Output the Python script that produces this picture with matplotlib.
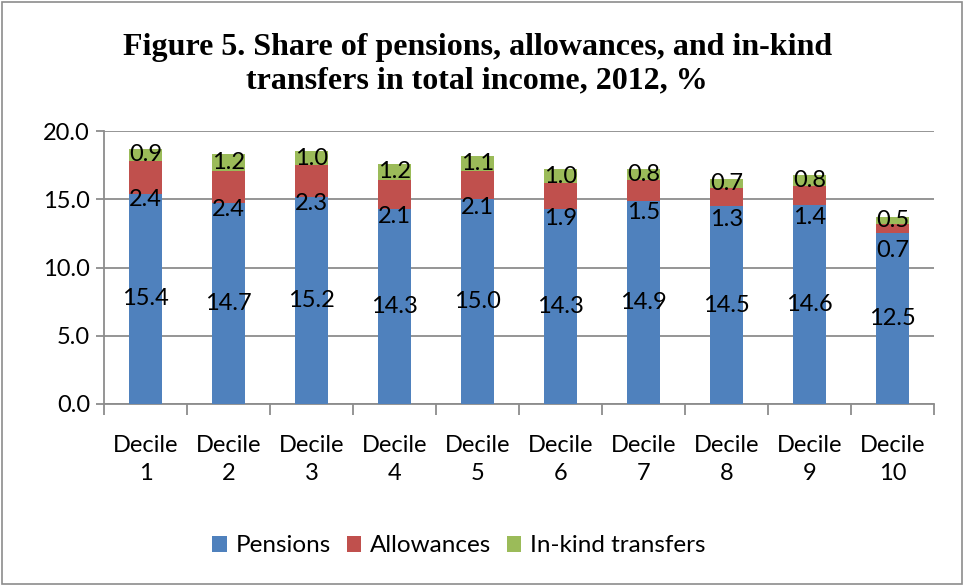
import matplotlib
matplotlib.use("Agg")
import matplotlib.pyplot as plt
from matplotlib.patches import Rectangle
import numpy as np

categories = ["Decile\n1", "Decile\n2", "Decile\n3", "Decile\n4", "Decile\n5",
              "Decile\n6", "Decile\n7", "Decile\n8", "Decile\n9", "Decile\n10"]
pensions = [15.4, 14.7, 15.2, 14.3, 15.0, 14.3, 14.9, 14.5, 14.6, 12.5]
allowances = [2.4, 2.4, 2.3, 2.1, 2.1, 1.9, 1.5, 1.3, 1.4, 0.7]
in_kind = [0.9, 1.2, 1.0, 1.2, 1.1, 1.0, 0.8, 0.7, 0.8, 0.5]

series_names = ["Pensions", "Allowances", "In-kind transfers"]
colors = ["#4F81BD", "#C0504D", "#9BBB59"]

plt.rcParams['font.family'] = ['Lato', 'DejaVu Sans']
fs = 17

fig = plt.figure(figsize=(9.64, 5.86), dpi=100)
ax = fig.add_axes([104 / 964, 1 - 404 / 586, 830 / 964, 273 / 586])

x = np.arange(len(categories))
width = 0.4
p = np.array(pensions)
a = np.array(allowances)
k = np.array(in_kind)

ax.bar(x, p, width, color=colors[0], label=series_names[0], zorder=3)
ax.bar(x, a, width, bottom=p, color=colors[1], label=series_names[1], zorder=3)
ax.bar(x, k, width, bottom=p + a, color=colors[2], label=series_names[2], zorder=3)

# data labels (Excel put the allowance labels a bit below their segment)
for i in range(len(x)):
    ax.text(x[i], p[i] / 2, f"{p[i]:.1f}", ha='center', va='center',
            fontsize=fs, zorder=4)
    ax.annotate(f"{a[i]:.1f}", (x[i], p[i] + a[i] / 2), xytext=(0, -16),
                textcoords='offset points', ha='center', va='center',
                fontsize=fs, zorder=4)
    ax.text(x[i], p[i] + a[i] + k[i] / 2, f"{k[i]:.1f}", ha='center',
            va='center', fontsize=fs, zorder=4)

ax.set_xlim(-0.5, len(categories) - 0.5)
ax.set_ylim(0, 20)
ax.set_yticks(np.arange(0, 20.1, 5))
ax.set_yticklabels([f"{v:.1f}" for v in np.arange(0, 20.1, 5)], fontsize=fs)
ax.yaxis.grid(True, color='#8c8c8c', linewidth=1.3, zorder=0)
ax.set_axisbelow(True)

ax.set_xticks(x)
ax.set_xticklabels(categories, fontsize=fs, linespacing=1.45)
ax.tick_params(axis='x', length=0, pad=22)
ax.set_xticks(np.arange(-0.5, len(categories)), minor=True)
ax.tick_params(axis='x', which='minor', length=8, width=1.3, color='#8c8c8c')
ax.tick_params(axis='y', length=6, width=1.3, color='#8c8c8c', pad=4)

for side in ['top', 'right']:
    ax.spines[side].set_visible(False)
for side in ['left', 'bottom']:
    ax.spines[side].set_color('#8c8c8c')
    ax.spines[side].set_linewidth(1.3)

fig.text(0.495, 1 - 64 / 586,
         "Figure 5. Share of pensions, allowances, and in-kind\ntransfers in total income, 2012, %",
         ha='center', va='center', fontsize=23, fontweight='bold',
         family='Liberation Serif', linespacing=1.18)

fig.legend(loc='center', bbox_to_anchor=(0.476, 1 - 546 / 586), ncol=3,
           frameon=False, fontsize=17.5, handlelength=0.6, handleheight=0.6,
           handletextpad=0.35, columnspacing=0.65)

fig.patches.append(Rectangle((0.002, 0.003), 0.996, 0.994, transform=fig.transFigure,
                             fill=False, edgecolor='#8c8c8c', linewidth=1.2))

fig.savefig("out.png", dpi=100)
